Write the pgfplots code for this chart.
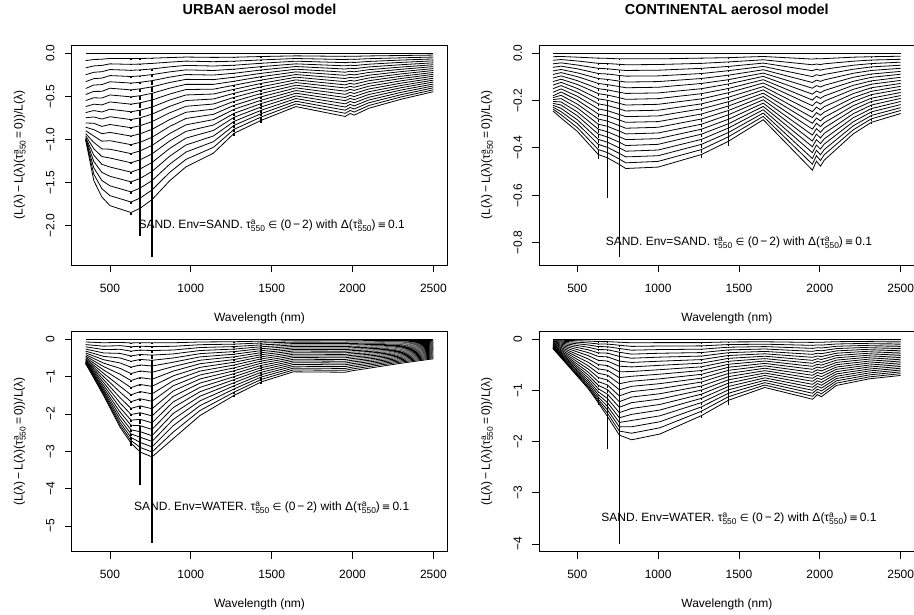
\documentclass[border=0pt]{standalone}
\usepackage{pgfplots}
\pgfplotsset{compat=1.18}
\usepackage{pgfplotstable}
\usepackage{fontspec}
\setmainfont{Liberation Sans}
\newfontfamily\djv[Scale=0.85]{DejaVu Sans}

\newcommand{\sm}{\fontsize{8.4pt}{9pt}\selectfont}
\newcommand{\taua}{τ\rlap{\raisebox{0.62ex}{\sm a}}\raisebox{-0.45ex}{\sm 550}}
\newcommand{\ann}[1]{SAND. Env=#1. \taua\ {\djv ∈}\ (0\,−\,2) with Δ(\taua)\,{\djv ≡}\,0.1}

% URBAN, Env=SAND : curves for tau = 0.1 ... 2.0
\pgfplotstableread{
wl c1 c2 c3 c4 c5 c6 c7 c8 c9 c10 c11 c12 c13 c14 c15 c16 c17 c18 c19 c20
350 -0.086 -0.170 -0.250 -0.330 -0.410 -0.480 -0.550 -0.620 -0.690 -0.750 -0.810 -0.860 -0.900 -0.935 -0.960 -0.980 -0.990 -1.000 -1.005 -1.010
400 -0.074 -0.148 -0.222 -0.296 -0.370 -0.444 -0.518 -0.592 -0.666 -0.740 -0.814 -0.888 -0.962 -1.036 -1.110 -1.184 -1.258 -1.332 -1.406 -1.480
450 -0.070 -0.142 -0.215 -0.289 -0.365 -0.443 -0.521 -0.601 -0.683 -0.765 -0.850 -0.935 -1.022 -1.111 -1.200 -1.291 -1.384 -1.478 -1.573 -1.670
500 -0.061 -0.124 -0.190 -0.260 -0.332 -0.407 -0.485 -0.566 -0.651 -0.738 -0.828 -0.920 -1.016 -1.115 -1.217 -1.322 -1.429 -1.540 -1.654 -1.770
630 -0.063 -0.130 -0.199 -0.271 -0.347 -0.426 -0.507 -0.592 -0.680 -0.771 -0.865 -0.962 -1.062 -1.166 -1.272 -1.381 -1.494 -1.610 -1.728 -1.850
687 -0.062 -0.126 -0.194 -0.264 -0.338 -0.414 -0.494 -0.576 -0.662 -0.750 -0.842 -0.936 -1.034 -1.134 -1.238 -1.344 -1.454 -1.566 -1.682 -1.800
760 -0.058 -0.119 -0.183 -0.249 -0.319 -0.391 -0.466 -0.544 -0.625 -0.708 -0.795 -0.884 -0.976 -1.071 -1.169 -1.269 -1.373 -1.479 -1.588 -1.700
870 -0.051 -0.104 -0.159 -0.217 -0.278 -0.340 -0.406 -0.474 -0.544 -0.617 -0.692 -0.770 -0.850 -0.932 -1.018 -1.105 -1.195 -1.288 -1.383 -1.480
970 -0.045 -0.092 -0.142 -0.194 -0.248 -0.304 -0.362 -0.422 -0.485 -0.550 -0.617 -0.686 -0.758 -0.832 -0.908 -0.986 -1.066 -1.148 -1.233 -1.320
1140 -0.049 -0.099 -0.149 -0.201 -0.254 -0.307 -0.362 -0.418 -0.474 -0.532 -0.590 -0.650 -0.710 -0.771 -0.834 -0.897 -0.961 -1.027 -1.093 -1.160
1268 -0.047 -0.093 -0.140 -0.186 -0.233 -0.279 -0.326 -0.372 -0.419 -0.465 -0.512 -0.558 -0.605 -0.651 -0.698 -0.744 -0.791 -0.837 -0.884 -0.930
1435 -0.039 -0.078 -0.117 -0.156 -0.195 -0.234 -0.273 -0.312 -0.351 -0.390 -0.429 -0.468 -0.507 -0.546 -0.585 -0.624 -0.663 -0.702 -0.741 -0.780
1650 -0.031 -0.062 -0.093 -0.124 -0.155 -0.186 -0.217 -0.248 -0.279 -0.310 -0.341 -0.372 -0.403 -0.434 -0.465 -0.496 -0.527 -0.558 -0.589 -0.620
1955 -0.037 -0.074 -0.110 -0.147 -0.184 -0.221 -0.257 -0.294 -0.331 -0.368 -0.404 -0.441 -0.478 -0.515 -0.551 -0.588 -0.625 -0.662 -0.698 -0.735
1985 -0.035 -0.070 -0.105 -0.140 -0.175 -0.210 -0.245 -0.280 -0.315 -0.350 -0.385 -0.420 -0.455 -0.490 -0.525 -0.560 -0.595 -0.630 -0.665 -0.700
2010 -0.036 -0.072 -0.108 -0.144 -0.180 -0.216 -0.252 -0.288 -0.324 -0.360 -0.396 -0.432 -0.468 -0.504 -0.540 -0.576 -0.612 -0.648 -0.684 -0.720
2100 -0.032 -0.064 -0.096 -0.128 -0.160 -0.192 -0.224 -0.256 -0.288 -0.320 -0.352 -0.384 -0.416 -0.448 -0.480 -0.512 -0.544 -0.576 -0.608 -0.640
2300 -0.027 -0.054 -0.080 -0.107 -0.134 -0.161 -0.187 -0.214 -0.241 -0.268 -0.294 -0.321 -0.348 -0.375 -0.401 -0.428 -0.455 -0.482 -0.508 -0.535
2500 -0.022 -0.045 -0.067 -0.089 -0.112 -0.134 -0.156 -0.179 -0.201 -0.224 -0.246 -0.268 -0.291 -0.313 -0.335 -0.358 -0.380 -0.402 -0.425 -0.447
}\mA
% absorption lines: curve value (c) and depth of the dip (e)
\pgfplotstableread{
wl c1 c2 c3 c4 c5 c6 c7 c8 c9 c10 c11 c12 c13 c14 c15 c16 c17 c18 c19 c20 e1 e2 e3 e4 e5 e6 e7 e8 e9 e10 e11 e12 e13 e14 e15 e16 e17 e18 e19 e20
630 -0.063 -0.130 -0.199 -0.271 -0.347 -0.426 -0.507 -0.592 -0.680 -0.771 -0.865 -0.962 -1.062 -1.166 -1.272 -1.381 -1.494 -1.610 -1.728 -1.850 .005 .006 .007 .008 .009 .010 .011 .012 .013 .014 .015 .016 .017 .018 .019 .020 .021 .022 .023 .024
687 -0.062 -0.126 -0.194 -0.264 -0.338 -0.414 -0.494 -0.576 -0.662 -0.750 -0.842 -0.936 -1.034 -1.134 -1.238 -1.344 -1.454 -1.566 -1.682 -1.800 .006 .008 .012 .018 .025 .033 .044 .055 .069 .084 .100 .118 .138 .159 .182 .207 .233 .260 .289 .320
760 -0.058 -0.119 -0.183 -0.249 -0.319 -0.391 -0.466 -0.544 -0.625 -0.708 -0.795 -0.884 -0.976 -1.071 -1.169 -1.269 -1.373 -1.479 -1.588 -1.700 .007 .012 .020 .032 .047 .065 .086 .111 .140 .171 .206 .244 .286 .331 .379 .431 .485 .544 .605 .670
1268 -0.047 -0.093 -0.140 -0.186 -0.233 -0.279 -0.326 -0.372 -0.419 -0.465 -0.512 -0.558 -0.605 -0.651 -0.698 -0.744 -0.791 -0.837 -0.884 -0.930 .005 .006 .008 .009 .011 .012 .014 .015 .017 .018 .020 .021 .023 .024 .026 .027 .029 .030 .032 .033
1435 -0.039 -0.078 -0.117 -0.156 -0.195 -0.234 -0.273 -0.312 -0.351 -0.390 -0.429 -0.468 -0.507 -0.546 -0.585 -0.624 -0.663 -0.702 -0.741 -0.780 .005 .006 .008 .009 .011 .012 .014 .015 .017 .018 .020 .021 .023 .024 .026 .027 .029 .030 .032 .033
}\sA

% CONTINENTAL, Env=SAND
\pgfplotstableread{
wl c1 c2 c3 c4 c5 c6 c7 c8 c9 c10 c11 c12 c13 c14 c15 c16 c17 c18 c19 c20
350 -0.015 -0.030 -0.045 -0.060 -0.075 -0.090 -0.105 -0.120 -0.135 -0.150 -0.165 -0.180 -0.188 -0.196 -0.204 -0.212 -0.220 -0.228 -0.236 -0.244
400 -0.014 -0.027 -0.041 -0.055 -0.069 -0.082 -0.096 -0.110 -0.123 -0.137 -0.151 -0.164 -0.178 -0.192 -0.206 -0.219 -0.233 -0.247 -0.260 -0.274
500 -0.017 -0.033 -0.050 -0.066 -0.083 -0.099 -0.116 -0.132 -0.149 -0.165 -0.182 -0.198 -0.215 -0.231 -0.248 -0.264 -0.281 -0.297 -0.314 -0.330
630 -0.021 -0.043 -0.064 -0.086 -0.107 -0.128 -0.150 -0.171 -0.193 -0.214 -0.235 -0.257 -0.278 -0.300 -0.321 -0.342 -0.364 -0.385 -0.407 -0.428
687 -0.022 -0.044 -0.066 -0.088 -0.111 -0.133 -0.155 -0.177 -0.199 -0.221 -0.243 -0.265 -0.287 -0.309 -0.332 -0.354 -0.376 -0.398 -0.420 -0.442
760 -0.024 -0.047 -0.071 -0.094 -0.118 -0.141 -0.165 -0.188 -0.212 -0.235 -0.259 -0.282 -0.306 -0.329 -0.353 -0.376 -0.400 -0.423 -0.447 -0.470
800 -0.024 -0.049 -0.073 -0.097 -0.122 -0.146 -0.170 -0.195 -0.219 -0.244 -0.268 -0.292 -0.317 -0.341 -0.365 -0.390 -0.414 -0.438 -0.463 -0.487
1000 -0.024 -0.048 -0.072 -0.096 -0.120 -0.144 -0.168 -0.192 -0.216 -0.241 -0.265 -0.289 -0.313 -0.337 -0.361 -0.385 -0.409 -0.433 -0.457 -0.481
1268 -0.021 -0.043 -0.064 -0.086 -0.107 -0.128 -0.150 -0.171 -0.193 -0.214 -0.235 -0.257 -0.278 -0.300 -0.321 -0.342 -0.364 -0.385 -0.407 -0.428
1435 -0.019 -0.037 -0.056 -0.074 -0.093 -0.112 -0.130 -0.149 -0.167 -0.186 -0.205 -0.223 -0.242 -0.260 -0.279 -0.298 -0.316 -0.335 -0.353 -0.372
1650 -0.014 -0.028 -0.042 -0.056 -0.070 -0.084 -0.098 -0.112 -0.126 -0.141 -0.155 -0.169 -0.183 -0.197 -0.211 -0.225 -0.239 -0.253 -0.267 -0.281
1954 -0.025 -0.049 -0.074 -0.099 -0.124 -0.148 -0.173 -0.198 -0.222 -0.247 -0.272 -0.296 -0.321 -0.346 -0.371 -0.395 -0.420 -0.445 -0.469 -0.494
1979 -0.023 -0.046 -0.068 -0.091 -0.114 -0.137 -0.160 -0.182 -0.205 -0.228 -0.251 -0.274 -0.296 -0.319 -0.342 -0.365 -0.388 -0.410 -0.433 -0.456
2004 -0.024 -0.048 -0.072 -0.095 -0.119 -0.143 -0.167 -0.191 -0.215 -0.239 -0.262 -0.286 -0.310 -0.334 -0.358 -0.382 -0.405 -0.429 -0.453 -0.477
2027 -0.023 -0.045 -0.068 -0.090 -0.113 -0.136 -0.158 -0.181 -0.203 -0.226 -0.249 -0.271 -0.294 -0.316 -0.339 -0.362 -0.384 -0.407 -0.429 -0.452
2206 -0.017 -0.034 -0.051 -0.068 -0.085 -0.102 -0.119 -0.136 -0.153 -0.171 -0.188 -0.205 -0.222 -0.239 -0.256 -0.273 -0.290 -0.307 -0.324 -0.341
2319 -0.015 -0.029 -0.044 -0.058 -0.073 -0.088 -0.102 -0.117 -0.131 -0.146 -0.161 -0.175 -0.190 -0.204 -0.219 -0.234 -0.248 -0.263 -0.277 -0.292
2500 -0.013 -0.026 -0.038 -0.051 -0.064 -0.077 -0.089 -0.102 -0.115 -0.128 -0.140 -0.153 -0.166 -0.179 -0.191 -0.204 -0.217 -0.230 -0.242 -0.255
}\mB
\pgfplotstableread{
wl c1 c2 c3 c4 c5 c6 c7 c8 c9 c10 c11 c12 c13 c14 c15 c16 c17 c18 c19 c20 e1 e2 e3 e4 e5 e6 e7 e8 e9 e10 e11 e12 e13 e14 e15 e16 e17 e18 e19 e20
630 -0.021 -0.043 -0.064 -0.086 -0.107 -0.128 -0.150 -0.171 -0.193 -0.214 -0.235 -0.257 -0.278 -0.300 -0.321 -0.342 -0.364 -0.385 -0.407 -0.428 .004 .005 .005 .006 .007 .008 .008 .009 .010 .011 .011 .012 .013 .014 .014 .015 .016 .017 .017 .018
687 -0.022 -0.044 -0.066 -0.088 -0.111 -0.133 -0.155 -0.177 -0.199 -0.221 -0.243 -0.265 -0.287 -0.309 -0.332 -0.354 -0.376 -0.398 -0.420 -0.442 .003 .003 .004 .004 .006 .008 .010 .014 .018 .024 .031 .039 .049 .061 .074 .089 .106 .125 .147 .171
760 -0.024 -0.047 -0.071 -0.094 -0.118 -0.141 -0.165 -0.188 -0.212 -0.235 -0.259 -0.282 -0.306 -0.329 -0.353 -0.376 -0.400 -0.423 -0.447 -0.470 .004 .007 .012 .019 .028 .038 .051 .066 .083 .101 .122 .144 .169 .196 .224 .255 .287 .321 .358 .392
1268 -0.021 -0.043 -0.064 -0.086 -0.107 -0.128 -0.150 -0.171 -0.193 -0.214 -0.235 -0.257 -0.278 -0.300 -0.321 -0.342 -0.364 -0.385 -0.407 -0.428 .004 .004 .005 .005 .006 .007 .007 .008 .008 .009 .010 .010 .011 .011 .012 .013 .013 .014 .014 .015
1435 -0.019 -0.037 -0.056 -0.074 -0.093 -0.112 -0.130 -0.149 -0.167 -0.186 -0.205 -0.223 -0.242 -0.260 -0.279 -0.298 -0.316 -0.335 -0.353 -0.372 .004 .005 .006 .007 .008 .008 .009 .010 .011 .012 .013 .014 .015 .016 .017 .017 .018 .019 .020 .021
2319 -0.015 -0.029 -0.044 -0.058 -0.073 -0.088 -0.102 -0.117 -0.131 -0.146 -0.161 -0.175 -0.190 -0.204 -0.219 -0.234 -0.248 -0.263 -0.277 -0.292 .002 .003 .003 .003 .004 .004 .004 .004 .005 .005 .005 .006 .006 .006 .007 .007 .007 .007 .008 .008
}\sB

% URBAN, Env=WATER
\pgfplotstableread{
wl c1 c2 c3 c4 c5 c6 c7 c8 c9 c10 c11 c12 c13 c14 c15 c16 c17 c18 c19 c20
350 -0.070 -0.140 -0.200 -0.260 -0.315 -0.365 -0.410 -0.450 -0.485 -0.515 -0.540 -0.562 -0.580 -0.596 -0.610 -0.622 -0.632 -0.640 -0.646 -0.650
460 -0.091 -0.182 -0.273 -0.364 -0.455 -0.545 -0.636 -0.727 -0.818 -0.909 -0.995 -1.077 -1.155 -1.227 -1.291 -1.346 -1.391 -1.432 -1.468 -1.500
562 -0.081 -0.168 -0.266 -0.376 -0.498 -0.631 -0.776 -0.932 -1.094 -1.256 -1.412 -1.563 -1.702 -1.829 -1.945 -2.049 -2.142 -2.223 -2.292 -2.350
630 -0.096 -0.198 -0.315 -0.445 -0.589 -0.746 -0.917 -1.103 -1.294 -1.486 -1.671 -1.849 -2.013 -2.164 -2.301 -2.424 -2.533 -2.629 -2.712 -2.780
687 -0.088 -0.184 -0.287 -0.405 -0.538 -0.685 -0.847 -1.024 -1.208 -1.399 -1.591 -1.782 -1.967 -2.144 -2.313 -2.475 -2.622 -2.762 -2.895 -3.020
760 -0.092 -0.192 -0.300 -0.422 -0.561 -0.714 -0.884 -1.068 -1.260 -1.460 -1.659 -1.859 -2.051 -2.236 -2.413 -2.581 -2.735 -2.881 -3.019 -3.150
891 -0.091 -0.186 -0.286 -0.390 -0.499 -0.612 -0.729 -0.851 -0.978 -1.108 -1.244 -1.383 -1.527 -1.676 -1.829 -1.986 -2.148 -2.314 -2.485 -2.660
1057 -0.070 -0.143 -0.219 -0.299 -0.383 -0.469 -0.559 -0.653 -0.750 -0.850 -0.954 -1.061 -1.171 -1.285 -1.403 -1.523 -1.647 -1.775 -1.906 -2.040
1268 -0.063 -0.128 -0.193 -0.260 -0.328 -0.398 -0.468 -0.540 -0.613 -0.687 -0.763 -0.840 -0.918 -0.998 -1.078 -1.160 -1.243 -1.328 -1.413 -1.500
1435 -0.048 -0.097 -0.147 -0.198 -0.249 -0.302 -0.356 -0.410 -0.466 -0.522 -0.580 -0.638 -0.698 -0.758 -0.819 -0.882 -0.945 -1.009 -1.074 -1.140
1634 -0.037 -0.074 -0.112 -0.151 -0.190 -0.231 -0.272 -0.313 -0.356 -0.399 -0.443 -0.487 -0.533 -0.579 -0.625 -0.673 -0.721 -0.770 -0.820 -0.870
1954 -0.037 -0.075 -0.113 -0.153 -0.193 -0.233 -0.275 -0.317 -0.360 -0.403 -0.448 -0.493 -0.539 -0.585 -0.633 -0.681 -0.729 -0.779 -0.829 -0.880
2000 -0.035 -0.071 -0.108 -0.146 -0.184 -0.223 -0.262 -0.302 -0.343 -0.385 -0.427 -0.470 -0.514 -0.559 -0.604 -0.650 -0.696 -0.743 -0.791 -0.840
2300 -0.032 -0.064 -0.096 -0.128 -0.160 -0.192 -0.224 -0.256 -0.288 -0.320 -0.352 -0.384 -0.416 -0.448 -0.480 -0.512 -0.544 -0.576 -0.608 -0.640
2500 -0.026 -0.052 -0.078 -0.104 -0.130 -0.156 -0.182 -0.208 -0.234 -0.260 -0.286 -0.312 -0.338 -0.364 -0.390 -0.416 -0.442 -0.468 -0.494 -0.520
}\mC
\pgfplotstableread{
wl c1 c2 c3 c4 c5 c6 c7 c8 c9 c10 c11 c12 c13 c14 c15 c16 c17 c18 c19 c20 e1 e2 e3 e4 e5 e6 e7 e8 e9 e10 e11 e12 e13 e14 e15 e16 e17 e18 e19 e20
630 -0.096 -0.198 -0.315 -0.445 -0.589 -0.746 -0.917 -1.103 -1.294 -1.486 -1.671 -1.849 -2.013 -2.164 -2.301 -2.424 -2.533 -2.629 -2.712 -2.780 .013 .016 .019 .022 .025 .028 .031 .034 .037 .040 .043 .046 .049 .052 .055 .058 .061 .064 .067 .070
687 -0.088 -0.184 -0.287 -0.405 -0.538 -0.685 -0.847 -1.024 -1.208 -1.399 -1.591 -1.782 -1.967 -2.144 -2.313 -2.475 -2.622 -2.762 -2.895 -3.020 .035 .035 .035 .035 .035 .036 .037 .039 .042 .048 .059 .075 .099 .136 .187 .259 .357 .489 .663 .890
760 -0.092 -0.192 -0.300 -0.422 -0.561 -0.714 -0.884 -1.068 -1.260 -1.460 -1.659 -1.859 -2.051 -2.236 -2.413 -2.581 -2.735 -2.881 -3.019 -3.150 .026 .043 .072 .112 .164 .227 .302 .388 .486 .595 .716 .848 .992 1.147 1.314 1.492 1.682 1.883 2.096 2.320
1268 -0.063 -0.128 -0.193 -0.260 -0.328 -0.398 -0.468 -0.540 -0.613 -0.687 -0.763 -0.840 -0.918 -0.998 -1.078 -1.160 -1.243 -1.328 -1.413 -1.500 .007 .009 .011 .013 .015 .017 .019 .021 .023 .025 .027 .029 .031 .033 .035 .037 .039 .041 .043 .045
1435 -0.048 -0.097 -0.147 -0.198 -0.249 -0.302 -0.356 -0.410 -0.466 -0.522 -0.580 -0.638 -0.698 -0.758 -0.819 -0.882 -0.945 -1.009 -1.074 -1.140 .007 .009 .011 .013 .015 .017 .019 .021 .023 .025 .027 .029 .031 .033 .035 .037 .039 .041 .043 .045
}\sC

% CONTINENTAL, Env=WATER
\pgfplotstableread{
wl c1 c2 c3 c4 c5 c6 c7 c8 c9 c10 c11 c12 c13 c14 c15 c16 c17 c18 c19 c20
350 -0.012 -0.024 -0.036 -0.048 -0.060 -0.071 -0.082 -0.093 -0.103 -0.113 -0.122 -0.131 -0.139 -0.147 -0.154 -0.161 -0.167 -0.172 -0.176 -0.180
568 -0.033 -0.069 -0.109 -0.154 -0.204 -0.259 -0.318 -0.383 -0.449 -0.516 -0.580 -0.642 -0.699 -0.751 -0.799 -0.841 -0.879 -0.913 -0.941 -0.965
630 -0.043 -0.089 -0.140 -0.199 -0.263 -0.333 -0.409 -0.492 -0.577 -0.663 -0.745 -0.825 -0.898 -0.965 -1.026 -1.081 -1.130 -1.173 -1.210 -1.240
687 -0.044 -0.092 -0.144 -0.202 -0.269 -0.342 -0.424 -0.512 -0.604 -0.700 -0.795 -0.891 -0.983 -1.072 -1.157 -1.237 -1.311 -1.381 -1.447 -1.510
760 -0.055 -0.114 -0.178 -0.251 -0.333 -0.424 -0.525 -0.634 -0.748 -0.867 -0.985 -1.104 -1.218 -1.327 -1.432 -1.532 -1.624 -1.710 -1.792 -1.870
836 -0.067 -0.137 -0.211 -0.288 -0.368 -0.451 -0.538 -0.628 -0.721 -0.818 -0.918 -1.021 -1.127 -1.237 -1.350 -1.466 -1.585 -1.708 -1.834 -1.963
1011 -0.063 -0.130 -0.199 -0.271 -0.347 -0.426 -0.507 -0.592 -0.680 -0.771 -0.865 -0.962 -1.062 -1.166 -1.272 -1.381 -1.494 -1.610 -1.728 -1.850
1268 -0.063 -0.127 -0.192 -0.258 -0.326 -0.395 -0.465 -0.536 -0.609 -0.683 -0.758 -0.834 -0.912 -0.991 -1.071 -1.152 -1.235 -1.319 -1.404 -1.490
1435 -0.050 -0.101 -0.153 -0.206 -0.260 -0.315 -0.371 -0.428 -0.486 -0.545 -0.605 -0.666 -0.728 -0.791 -0.855 -0.920 -0.986 -1.053 -1.121 -1.190
1660 -0.047 -0.094 -0.141 -0.188 -0.235 -0.282 -0.329 -0.376 -0.423 -0.470 -0.517 -0.564 -0.611 -0.658 -0.705 -0.752 -0.799 -0.846 -0.893 -0.940
1955 -0.059 -0.117 -0.176 -0.234 -0.293 -0.351 -0.410 -0.468 -0.527 -0.585 -0.644 -0.702 -0.761 -0.819 -0.878 -0.936 -0.995 -1.053 -1.112 -1.170
1985 -0.054 -0.108 -0.162 -0.216 -0.270 -0.324 -0.378 -0.432 -0.486 -0.540 -0.594 -0.648 -0.702 -0.756 -0.810 -0.864 -0.918 -0.972 -1.026 -1.080
2010 -0.056 -0.112 -0.168 -0.224 -0.280 -0.336 -0.392 -0.448 -0.504 -0.560 -0.616 -0.672 -0.728 -0.784 -0.840 -0.896 -0.952 -1.008 -1.064 -1.120
2103 -0.045 -0.090 -0.135 -0.180 -0.225 -0.270 -0.315 -0.360 -0.405 -0.450 -0.495 -0.540 -0.585 -0.630 -0.675 -0.720 -0.765 -0.810 -0.855 -0.900
2308 -0.039 -0.077 -0.116 -0.154 -0.193 -0.231 -0.270 -0.308 -0.347 -0.385 -0.424 -0.462 -0.501 -0.539 -0.578 -0.616 -0.655 -0.693 -0.732 -0.770
2500 -0.035 -0.071 -0.106 -0.141 -0.176 -0.212 -0.247 -0.282 -0.317 -0.353 -0.388 -0.423 -0.458 -0.494 -0.529 -0.564 -0.599 -0.635 -0.670 -0.705
}\mD
\pgfplotstableread{
wl c1 c2 c3 c4 c5 c6 c7 c8 c9 c10 c11 c12 c13 c14 c15 c16 c17 c18 c19 c20 e1 e2 e3 e4 e5 e6 e7 e8 e9 e10 e11 e12 e13 e14 e15 e16 e17 e18 e19 e20
630 -0.043 -0.089 -0.140 -0.199 -0.263 -0.333 -0.409 -0.492 -0.577 -0.663 -0.745 -0.825 -0.898 -0.965 -1.026 -1.081 -1.130 -1.173 -1.210 -1.240 .007 .008 .010 .011 .013 .014 .016 .017 .019 .020 .022 .023 .025 .026 .028 .029 .031 .032 .034 .035
687 -0.044 -0.092 -0.144 -0.202 -0.269 -0.342 -0.424 -0.512 -0.604 -0.700 -0.795 -0.891 -0.983 -1.072 -1.157 -1.237 -1.311 -1.381 -1.447 -1.510 .025 .025 .025 .025 .025 .025 .026 .027 .030 .034 .042 .053 .071 .096 .133 .184 .253 .346 .470 .630
760 -0.055 -0.114 -0.178 -0.251 -0.333 -0.424 -0.525 -0.634 -0.748 -0.867 -0.985 -1.104 -1.218 -1.327 -1.432 -1.532 -1.624 -1.710 -1.792 -1.870 .015 .031 .057 .094 .142 .200 .268 .348 .437 .538 .648 .770 .901 1.044 1.197 1.360 1.534 1.719 1.914 2.120
1268 -0.063 -0.127 -0.192 -0.258 -0.326 -0.395 -0.465 -0.536 -0.609 -0.683 -0.758 -0.834 -0.912 -0.991 -1.071 -1.152 -1.235 -1.319 -1.404 -1.490 .007 .009 .011 .013 .015 .017 .019 .021 .023 .025 .027 .029 .031 .033 .035 .037 .039 .041 .043 .045
1435 -0.050 -0.101 -0.153 -0.206 -0.260 -0.315 -0.371 -0.428 -0.486 -0.545 -0.605 -0.666 -0.728 -0.791 -0.855 -0.920 -0.986 -1.053 -1.121 -1.190 .010 .015 .019 .024 .029 .034 .038 .043 .048 .053 .057 .062 .067 .072 .076 .081 .086 .091 .095 .100
}\sD

\pgfplotsset{
  rbox/.style={
    scale only axis, width=375.5pt, height=220.5pt,
    anchor=south west,
    xmin=264, xmax=2586,
    axis line style={black, line width=0.8pt},
    tick pos=left, tick align=outside, major tick length=7pt,
    every tick/.style={black, line width=0.8pt},
    xtick={500,1000,1500,2000,2500},
    xticklabels={500,1000,1500,2000,2500},
    tick label style={font=\fontsize{12pt}{14pt}\selectfont},
    xticklabel style={anchor=north, inner sep=0pt},
    yticklabel style={rotate=90, anchor=south, inner sep=0pt},
    xticklabel shift=11pt, yticklabel shift=10pt,
    label style={font=\fontsize{12pt}{14pt}\selectfont},
    xlabel={Wavelength (nm)},
    xlabel style={at={(axis description cs:0.5,-0.2404)}, anchor=center},
    ylabel={(L(λ)\,−\,L(λ)(\taua\,=\,0))/L(λ)},
    ylabel style={at={(axis description cs:-0.1385,0.5)}, anchor=center},
    title style={font=\fontsize{14.4pt}{17pt}\selectfont\bfseries, at={(axis description cs:0.5,1.1324)}, anchor=center},
    every axis plot/.append style={line width=0.8pt},
  },
  spk/.style={draw=none, mark=none, error bars/.cd, y dir=minus, y explicit,
    error mark=none, error bar style={draw=black, solid, line width=1.5pt}},
}

\begin{document}
\begin{tikzpicture}
\begin{axis}[rbox, at={(71.8pt,349.5pt)}, ymin=-2.465, ymax=0.095,
  ytick={-2,-1.5,-1,-0.5,0}, yticklabels={−2.0,−1.5,−1.0,−0.5,0.0},
  title={URBAN aerosol model}]
\addplot[black] coordinates {(350,0) (2500,0)};
\pgfplotsinvokeforeach{1,...,20}{
  \addplot[black] table[x=wl, y=c#1] {\mA};
  \addplot[spk] table[x=wl, y=c#1, y error minus=e#1] {\sA};
}
\node[font=\fontsize{12pt}{14pt}\selectfont] at (axis cs:1500,-2) {\ann{SAND}};
\end{axis}

\begin{axis}[rbox, at={(539.1pt,349.5pt)}, ymin=-0.8965, ymax=0.0345,
  ytick={-0.8,-0.6,-0.4,-0.2,0}, yticklabels={−0.8,−0.6,−0.4,−0.2,0.0},
  title={CONTINENTAL aerosol model}]
\addplot[black] coordinates {(350,0) (2500,0)};
\pgfplotsinvokeforeach{1,...,20}{
  \addplot[black] table[x=wl, y=c#1] {\mB};
  \addplot[spk] table[x=wl, y=c#1, y error minus=e#1] {\sB};
}
\node[font=\fontsize{12pt}{14pt}\selectfont] at (axis cs:1500,-0.8) {\ann{SAND}};
\end{axis}

\begin{axis}[rbox, at={(71.8pt,63.3pt)}, ymin=-5.69, ymax=0.219,
  ytick={-5,-4,-3,-2,-1,0}, yticklabels={−5,−4,−3,−2,−1,0}]
\addplot[black] coordinates {(350,0) (2500,0)};
\pgfplotsinvokeforeach{1,...,20}{
  \addplot[black] table[x=wl, y=c#1] {\mC};
  \addplot[spk] table[x=wl, y=c#1, y error minus=e#1] {\sC};
}
\node[font=\fontsize{12pt}{14pt}\selectfont] at (axis cs:1500,-4.5) {\ann{WATER}};
\end{axis}

\begin{axis}[rbox, at={(539.1pt,63.3pt)}, ymin=-4.15, ymax=0.16,
  ytick={-4,-3,-2,-1,0}, yticklabels={−4,−3,−2,−1,0}]
\addplot[black] coordinates {(350,0) (2500,0)};
\pgfplotsinvokeforeach{1,...,20}{
  \addplot[black] table[x=wl, y=c#1] {\mD};
  \addplot[spk] table[x=wl, y=c#1, y error minus=e#1] {\sD};
}
\node[font=\fontsize{12pt}{14pt}\selectfont] at (axis cs:1500,-3.5) {\ann{WATER}};
\end{axis}

\pgfresetboundingbox
\path[use as bounding box] (0,0) rectangle (914pt,615pt);
\end{tikzpicture}
\end{document}
